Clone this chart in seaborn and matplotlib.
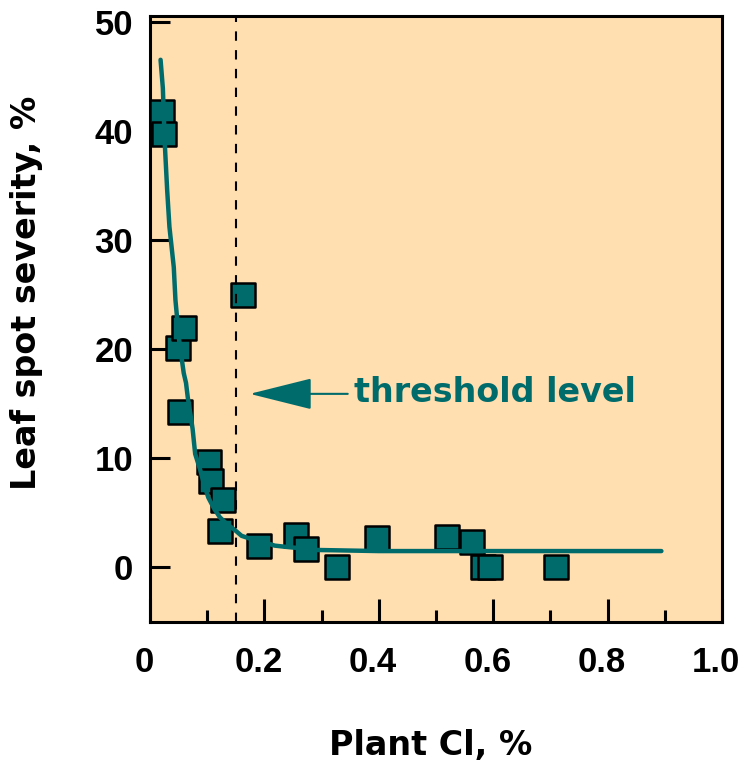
import pandas as pd
import matplotlib
matplotlib.use('Agg')
import matplotlib.pyplot as plt
import matplotlib.transforms as mtransforms
import seaborn as sns
from matplotlib import font_manager
from matplotlib.ticker import MultipleLocator

# measured points: plant Cl (%) vs leaf spot severity (%)
plant_cl = [0.021, 0.025, 0.049, 0.0595, 0.052, 0.103, 0.1075, 0.1275, 0.1216, 0.163,
            0.191, 0.255, 0.273, 0.327, 0.396, 0.519, 0.563, 0.583, 0.595, 0.710]
severity = [41.7, 39.7, 20.1, 21.9, 14.2, 9.7, 7.9, 6.2, 3.3, 25.0,
            2.0, 3.0, 1.7, 0.0, 2.7, 2.8, 2.3, 0.0, 0.0, 0.0]

# fitted curve
fit_cl = [0.0185, 0.0225, 0.026, 0.030, 0.034, 0.0416, 0.0445, 0.051, 0.055, 0.059,
          0.063, 0.066, 0.0705, 0.0745, 0.079, 0.088, 0.094, 0.102, 0.111, 0.122,
          0.134, 0.149, 0.160, 0.177, 0.200, 0.218, 0.235, 0.293, 0.400, 0.600, 0.894]
fit_severity = [46.5, 43.9, 38.7, 34.6, 31.2, 27.5, 24.5, 20.8, 19.3, 17.8,
                16.9, 15.6, 14.1, 12.7, 10.4, 8.9, 7.7, 6.4, 5.5, 4.6,
                4.0, 3.4, 2.9, 2.6, 2.3, 2.0, 1.9, 1.6, 1.5, 1.5, 1.5]

threshold_cl = 0.151
arrow_tip = (0.1745, 15.9)
arrow_tail = (0.3457, 15.9)
label_pos = (0.357, 15.2)

x_ticks = [0, 0.2, 0.4, 0.6, 0.8, 1.0]
x_tick_labels = ['0', '0.2', '0.4', '0.6', '0.8', '1.0']
y_ticks = [0, 10, 20, 30, 40, 50]

teal = '#006B6B'
peach = '#FFDEB0'

sns.set_style('ticks')
plt.rcParams['font.family'] = ['DejaVu Sans']
plt.rcParams['font.weight'] = 'bold'
plt.rcParams['text.color'] = 'black'
plt.rcParams['axes.labelcolor'] = 'black'
plt.rcParams['xtick.color'] = 'black'
plt.rcParams['ytick.color'] = 'black'

# tall narrow digits for the tick labels if the narrow face is there
installed = {f.name for f in font_manager.fontManager.ttflist}
if 'Liberation Sans Narrow' in installed:
    tick_family, tick_size = 'Liberation Sans Narrow', 28
else:
    tick_family, tick_size = 'Liberation Sans', 25

fig = plt.figure(figsize=(7.41, 7.67), dpi=100)
ax = fig.add_axes([0.2024, 0.189, 0.772, 0.790])
ax.set_facecolor(peach)

points = pd.DataFrame({'cl': plant_cl, 'sev': severity})
fit = pd.DataFrame({'cl': fit_cl, 'sev': fit_severity})

sns.scatterplot(data=points, x='cl', y='sev', marker='s', s=290, color=teal,
                edgecolor='black', linewidth=1.8, zorder=3, ax=ax)
sns.lineplot(data=fit, x='cl', y='sev', sort=False, estimator=None, color=teal,
             linewidth=3.2, zorder=4, ax=ax)
ax.axvline(threshold_cl, color='black', lw=1.5, dashes=(4.5, 4.5), zorder=5)

ax.annotate('', xy=arrow_tip, xytext=arrow_tail,
            arrowprops=dict(arrowstyle='-|>,head_length=2.0,head_width=0.5',
                            mutation_scale=20, color=teal, lw=1.5,
                            shrinkA=0, shrinkB=0))
ax.text(label_pos[0], label_pos[1], 'threshold level', color=teal, fontsize=24,
        fontweight='bold', ha='left', va='baseline')

ax.set_xlim(0, 1.0)
ax.set_ylim(-5, 50.5)
ax.set_xticks(x_ticks)
ax.set_xticklabels(x_tick_labels, family=tick_family, fontsize=tick_size, fontweight='bold')
ax.set_yticks(y_ticks)
ax.set_yticklabels([str(v) for v in y_ticks], family=tick_family, fontsize=tick_size,
                   fontweight='bold')
ax.xaxis.set_minor_locator(MultipleLocator(0.1))

ax.tick_params(axis='x', which='major', direction='in', length=16.5, width=2.2, pad=17)
ax.tick_params(axis='x', which='minor', direction='in', length=9, width=2.2)
ax.tick_params(axis='y', which='major', direction='in', length=14.4, width=2.2, pad=12)
ax.tick_params(axis='y', which='minor', left=False)

# labels sit a touch left of their ticks in the original
shift = mtransforms.ScaledTranslation(-6 / 100, 0, fig.dpi_scale_trans)
for lab in ax.get_xticklabels():
    lab.set_transform(lab.get_transform() + shift)

for side in ['left', 'right', 'top', 'bottom']:
    ax.spines[side].set_visible(True)
    ax.spines[side].set_linewidth(2.2)
    ax.spines[side].set_color('black')

ax.set_xlabel('Plant Cl, %', fontsize=24, fontweight='bold')
ax.set_ylabel('Leaf spot severity, %', fontsize=24, fontweight='bold')
ax.xaxis.set_label_coords(0.491, -0.176)
ax.yaxis.set_label_coords(-0.187, 0.543)

fig.savefig('out.png', dpi=100, facecolor='white')
